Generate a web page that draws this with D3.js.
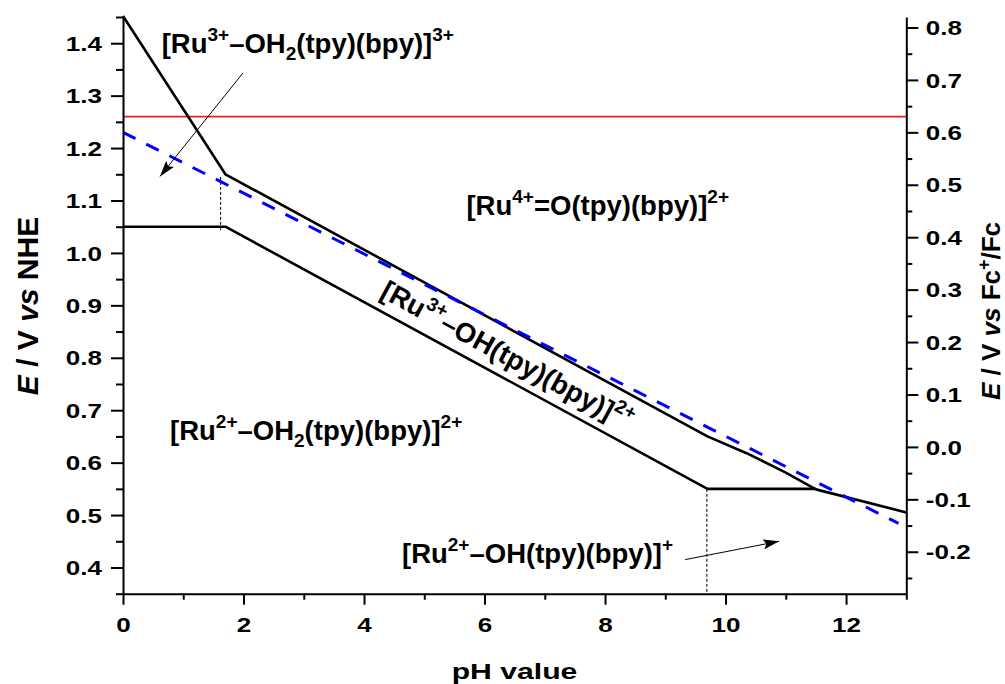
<!DOCTYPE html>
<html>
<head>
<meta charset="utf-8">
<script src="https://cdn.jsdelivr.net/npm/d3@7"></script>
<style>
  body { margin: 0; background: #fff; }
  svg { font-family: "Liberation Sans", Arial, sans-serif; font-weight: bold; }
</style>
</head>
<body>
<svg width="1005" height="684"></svg>
<script>
// Pourbaix boundaries, [pH, E / V vs NHE]
var upperLine = [[0, 1.452], [1.7, 1.15], [9.7, 0.65], [10.35, 0.618], [11.0, 0.581], [11.5, 0.549], [13, 0.505]];
var lowerLine = [[0, 1.05], [1.7, 1.05], [9.7, 0.55], [11.5, 0.55]];
var waterLine = [[0, 1.23], [12.87, 0.484]];
var redLine = [[0, 1.26], [13, 1.26]];
var dropLines = [[[1.62, 1.145], [1.62, 1.042]], [[9.69, 0.55], [9.69, 0.35]]];
var arrows = [[[1.99, 1.343], [0.614, 1.146]], [[9.33, 0.415], [10.89, 0.45]]];

// ticks
var xTicks = [0, 2, 4, 6, 8, 10, 12];
var xMinor = [1, 3, 5, 7, 9, 11, 13];
var leftTicks = [0.4, 0.5, 0.6, 0.7, 0.8, 0.9, 1.0, 1.1, 1.2, 1.3, 1.4];
var leftMinor = [0.35, 0.45, 0.55, 0.65, 0.75, 0.85, 0.95, 1.05, 1.15, 1.25, 1.35, 1.45];
var rightTicks = [-0.2, -0.1, 0.0, 0.1, 0.2, 0.3, 0.4, 0.5, 0.6, 0.7, 0.8];
var rightMinor = [-0.25, -0.15, -0.05, 0.05, 0.15, 0.25, 0.35, 0.45, 0.55, 0.65, 0.75];
var fcOffset = 0.63;   // NHE -> Fc+/Fc

// species labels: position [pH, E], rotation, text parts
var labels = [
  { at: [0.642, 1.381], rot: 0, parts: [["[Ru"], ["3+", "sup"], ["\u2013OH"], ["2", "sub"], ["(tpy)(bpy)]"], ["3+", "sup"]] },
  { at: [5.70, 1.072], rot: 0, parts: [["[Ru"], ["4+", "sup"], ["=O(tpy)(bpy)]"], ["2+", "sup"]] },
  { at: [0.78, 0.643], rot: 0, parts: [["[Ru"], ["2+", "sup"], ["\u2013OH"], ["2", "sub"], ["(tpy)(bpy)]"], ["2+", "sup"]] },
  { at: [4.25, 0.917], rot: 28.5, parts: [["[Ru"], ["3+", "sup"], ["\u2013OH(tpy)(bpy)]"], ["2+", "sup"]] },
  { at: [4.63, 0.408], rot: 0, parts: [["[Ru"], ["2+", "sup"], ["\u2013OH(tpy)(bpy)]"], ["+", "sup"]] }
];

var svg = d3.select("svg");

var x = d3.scaleLinear().domain([0, 13]).range([123, 906.3]);
var y = d3.scaleLinear().domain([0.35, 1.45]).range([593.7, 17]);
var yR = d3.scaleLinear().domain([0.35 - fcOffset, 1.45 - fcOffset]).range([593.7, 17]);

var line = d3.line()
    .x(function(d) { return x(d[0]); })
    .y(function(d) { return y(d[1]); });

var fmt = function(d) { return (Math.round(d * 10) / 10).toFixed(1); };
var sx = 1.27;  // tick labels are drawn wide

function styleAxis(g) {
  g.attr("font-family", null).attr("font-size", null);
  g.select(".domain").attr("stroke", "#000").attr("stroke-width", 2);
  g.selectAll(".tick line").attr("stroke", "#000").attr("stroke-width", 2);
  g.selectAll(".tick text")
      .attr("fill", "#000")
      .style("font-size", "20.5px")
      .attr("transform", "scale(" + sx + ",1)");
}

// red reference line
svg.append("path")
    .datum(redLine)
    .attr("d", line)
    .attr("fill", "none")
    .attr("stroke", "#f21c1c")
    .attr("stroke-width", 1.6);

// dotted drop lines
svg.selectAll(".drop")
    .data(dropLines)
    .enter()
    .append("path")
    .attr("d", line)
    .attr("fill", "none")
    .attr("stroke", "#000")
    .attr("stroke-width", 1)
    .style("stroke-dasharray", "3,2");

// boundaries
svg.selectAll(".bound")
    .data([upperLine, lowerLine])
    .enter()
    .append("path")
    .attr("d", line)
    .attr("fill", "none")
    .attr("stroke", "#000")
    .attr("stroke-width", 2.6)
    .attr("stroke-linejoin", "round");

// blue dashed line
svg.append("path")
    .datum(waterLine)
    .attr("d", line)
    .attr("fill", "none")
    .attr("stroke", "#0000ff")
    .attr("stroke-width", 3)
    .style("stroke-dasharray", "14,12");

// arrows
svg.append("defs").append("marker")
    .attr("id", "head")
    .attr("viewBox", "0 0 16 10")
    .attr("refX", 16).attr("refY", 5)
    .attr("markerWidth", 16).attr("markerHeight", 10)
    .attr("markerUnits", "userSpaceOnUse")
    .attr("orient", "auto")
    .append("path")
    .attr("d", "M0,0L16,5L0,10L3,5Z")
    .attr("fill", "#000");

svg.selectAll(".arrow")
    .data(arrows)
    .enter()
    .append("path")
    .attr("d", line)
    .attr("stroke", "#000")
    .attr("stroke-width", 1)
    .attr("marker-end", "url(#head)");

// axes
var gB = svg.append("g").attr("transform", "translate(0," + y(0.35) + ")")
    .call(d3.axisBottom(x).tickValues(xTicks).tickSize(11).tickSizeOuter(0).tickFormat(d3.format("d")));
styleAxis(gB);
gB.selectAll(".tick text").attr("y", 38.5).attr("dy", 0);
var gBm = svg.append("g").attr("transform", "translate(0," + y(0.35) + ")")
    .call(d3.axisBottom(x).tickValues(xMinor).tickSize(6).tickFormat(""));
styleAxis(gBm);
gBm.select(".domain").remove();

var gL = svg.append("g").attr("transform", "translate(" + x(0) + ",0)")
    .call(d3.axisLeft(y).tickValues(leftTicks).tickSize(12).tickSizeOuter(0).tickFormat(fmt));
styleAxis(gL);
gL.selectAll(".tick text").attr("x", -21 / sx).attr("dy", "0.35em");
var gLm = svg.append("g").attr("transform", "translate(" + x(0) + ",0)")
    .call(d3.axisLeft(y).tickValues(leftMinor).tickSize(7).tickFormat(""));
styleAxis(gLm);
gLm.select(".domain").remove();

var gR = svg.append("g").attr("transform", "translate(" + x(13) + ",0)")
    .call(d3.axisRight(yR).tickValues(rightTicks).tickSize(12).tickSizeOuter(0).tickFormat(fmt));
styleAxis(gR);
gR.selectAll(".tick text").attr("x", 19.5 / sx).attr("dy", "0.35em");
var gRm = svg.append("g").attr("transform", "translate(" + x(13) + ",0)")
    .call(d3.axisRight(yR).tickValues(rightMinor).tickSize(6).tickFormat(""));
styleAxis(gRm);
gRm.select(".domain").remove();

// axis titles
svg.append("text")
    .attr("transform", "translate(514.5,679) scale(1.34,1)")
    .attr("text-anchor", "middle")
    .style("font-size", "22.5px")
    .text("pH value");

var tL = svg.append("text")
    .attr("transform", "translate(37.5,306) rotate(-90)")
    .attr("text-anchor", "middle")
    .style("font-size", "30px");
tL.append("tspan").style("font-style", "italic").text("E");
tL.append("tspan").text(" / V ");
tL.append("tspan").style("font-style", "italic").text("vs");
tL.append("tspan").text(" NHE");

var tR = svg.append("text")
    .attr("transform", "translate(1000,311) rotate(-90)")
    .attr("text-anchor", "middle")
    .style("font-size", "26px");
tR.append("tspan").style("font-style", "italic").text("E");
tR.append("tspan").text(" / V ");
tR.append("tspan").style("font-style", "italic").text("vs");
tR.append("tspan").text(" Fc");
tR.append("tspan").attr("dy", -10).style("font-size", "18px").text("+");
tR.append("tspan").attr("dy", 10).text("/Fc");

// species labels
labels.forEach(function(l) {
  var t = svg.append("text")
      .attr("transform", "translate(" + x(l.at[0]) + "," + y(l.at[1]) + ") rotate(" + l.rot + ")")
      .style("font-size", "27.5px");
  var shift = 0;
  l.parts.forEach(function(p) {
    var target = p[1] === "sup" ? -12 : p[1] === "sub" ? 7 : 0;
    var ts = t.append("tspan").attr("dy", target - shift).text(p[0]);
    if (p[1]) ts.style("font-size", "19px");
    shift = target;
  });
});
</script>
</body>
</html>
